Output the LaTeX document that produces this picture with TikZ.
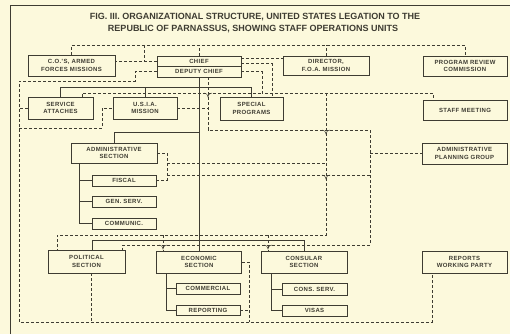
\documentclass[tikz,border=0pt]{standalone}
\usepackage{fontspec}
\setmainfont{Liberation Sans}
\newfontfamily\boxfont[LetterSpace=6]{Liberation Sans}
\usetikzlibrary{calc}
\definecolor{bg}{RGB}{252,249,220}
\definecolor{ink}{RGB}{62,60,50}
\newcommand\mydip[2]{\draw[ink,line width=0.5pt] (#1-4,#2) to[out=0,in=90] (#1,#2+4) to[out=90,in=180] (#1+4,#2);}
\begin{document}
\begin{tikzpicture}[x=1pt,y=-1pt,
  box/.style={draw=ink, line width=0.7pt, inner sep=0pt, align=center, text=ink,
    font=\boxfont\bfseries\fontsize{6}{7.5}\selectfont},
  org/.style={draw=ink, line width=1pt},
  dsh/.style={draw=ink, line width=0.5pt, dash pattern=on 3pt off 2pt},
  ttl/.style={font=\bfseries\fontsize{9}{10}\selectfont, text=ink}]
\fill[bg] (0,0) rectangle (510,334);
\useasboundingbox (0,0) rectangle (510,334);
\draw[ink, line width=0.8pt] (10,334) -- (10,5) -- (510,5);
\node[ttl] (title1) at (255,17) {FIG. III. ORGANIZATIONAL STRUCTURE, UNITED STATES LEGATION TO THE};
\node[ttl] (title2) at (253,29) {REPUBLIC OF PARNASSUS, SHOWING STAFF OPERATIONS UNITS};
% boxes
\node[box, minimum width=87pt, minimum height=21pt] (cos) at (71.5,65.5) {C.O.'S, ARMED\\FORCES MISSIONS};
\node[box, minimum width=84pt, minimum height=10pt] (chief) at (199,61) {CHIEF};
\node[box, minimum width=84pt, minimum height=11pt] (deputy) at (199,71.5) {DEPUTY CHIEF};
\node[box, minimum width=86pt, minimum height=19pt] (director) at (326,65.5) {DIRECTOR,\\F.O.A. MISSION};
\node[box, minimum width=84pt, minimum height=20pt] (prc) at (465,66) {PROGRAM REVIEW\\COMMISSION};
\node[box, minimum width=65pt, minimum height=22pt] (service) at (60.5,108) {SERVICE\\ATTACHES};
\node[box, minimum width=64pt, minimum height=22pt] (usia) at (145,108) {U.S.I.A.\\MISSION};
\node[box, minimum width=63pt, minimum height=23pt] (special) at (251.5,108.5) {SPECIAL\\PROGRAMS};
\node[box, minimum width=84pt, minimum height=20pt] (staff) at (465,110) {STAFF MEETING};
\node[box, minimum width=86pt, minimum height=20pt] (admin) at (114,153) {ADMINISTRATIVE\\SECTION};
\node[box, minimum width=64pt, minimum height=11pt] (fiscal) at (124,180.5) {FISCAL};
\node[box, minimum width=64pt, minimum height=11pt] (gen) at (124,201.5) {GEN. SERV.};
\node[box, minimum width=64pt, minimum height=11pt] (comm) at (124,223.5) {COMMUNIC.};
\node[box, minimum width=85pt, minimum height=21pt] (apg) at (464.5,153.5) {ADMINISTRATIVE\\PLANNING GROUP};
\node[box, minimum width=77pt, minimum height=23pt] (political) at (86.5,261.5) {POLITICAL\\SECTION};
\node[box, minimum width=85pt, minimum height=22pt] (economic) at (199,262) {ECONOMIC\\SECTION};
\node[box, minimum width=64pt, minimum height=11pt] (commercial) at (208,288.5) {COMMERCIAL};
\node[box, minimum width=64pt, minimum height=10pt] (reporting) at (208,310) {REPORTING};
\node[box, minimum width=86pt, minimum height=22pt] (consular) at (304,262) {CONSULAR\\SECTION};
\node[box, minimum width=65pt, minimum height=12pt] (consserv) at (314.5,289) {CONS. SERV.};
\node[box, minimum width=65pt, minimum height=11pt] (visas) at (314.5,310.5) {VISAS};
\node[box, minimum width=85pt, minimum height=22pt] (rwp) at (464.5,262) {REPORTS\\WORKING PARTY};
% helper coordinates
\coordinate (bar1) at (0,88); \coordinate (bar2) at (0,132); \coordinate (bar3) at (0,240);
\coordinate (asx) at (79,0); \coordinate (esx) at (166,0); \coordinate (csx) at (271,0);
\coordinate (tb) at (0,45); \coordinate (sb) at (0,93); \coordinate (rb) at (0,130);
\coordinate (lb) at (0,245); \coordinate (pb) at (0,235); \coordinate (bb) at (0,322);
\coordinate (l1) at (0,81); \coordinate (l2) at (0,128); \coordinate (a1) at (0,163); \coordinate (a2) at (0,175);
\coordinate (c19) at (19,0); \coordinate (c57) at (57,0); \coordinate (c82) at (82,0);
\coordinate (c91) at (91,0); \coordinate (c102) at (102,0); \coordinate (c135) at (135,0);
\coordinate (c144) at (144,0); \coordinate (c163) at (163,0); \coordinate (c167) at (167,0);
\coordinate (c208) at (208,0); \coordinate (c249) at (249,0); \coordinate (c262) at (262,0);
\coordinate (c268) at (268,0); \coordinate (c272) at (272,0); \coordinate (c326) at (326,0);
\coordinate (c370) at (370,0); \coordinate (c432) at (432,0); \coordinate (c433) at (433,0);
% solid lines
\draw[org] (deputy.south) -- (economic.north);
\draw[org] (service.north) |- (bar1 -| special.north) -- (special.north);
\draw[org] (usia.north) -- (usia.north |- bar1);
\draw[org] (admin.north) |- (bar2 -| deputy.south);
\draw[org] (admin.south -| asx) |- (comm.west);
\draw[org] (fiscal.west -| asx) -- (fiscal.west);
\draw[org] (gen.west -| asx) -- (gen.west);
\draw[org] ([xshift=5.5pt]political.north) |- (bar3 -| consular.north) -- (consular.north);
\draw[org] (economic.south -| esx) |- (reporting.west);
\draw[org] (commercial.west -| esx) -- (commercial.west);
\draw[org] (consular.south -| csx) |- (visas.west);
\draw[org] (consserv.west -| csx) -- (consserv.west);
% dashed lines
\draw[dsh] (cos.north) -- (cos.north |- tb) -| (prc.north);
\draw[dsh] (chief.north) -- (chief.north |- tb);
\draw[dsh] (director.north) -- (director.north |- tb);
\draw[dsh] (c144 |- tb) -- (chief.west -| c144);
\draw[dsh] (chief.west) -- (chief.west -| cos.east);
\coordinate (ce1) at ([yshift=2.5pt]chief.east);
\coordinate (ce2) at ([yshift=-2.5pt]chief.east);
\draw[dsh] (ce1) -- (ce1 -| director.west);
\draw[dsh] (ce2) -| (special.north -| c272);
\draw[dsh] (deputy.east) -| (c262 |- sb) -| (staff.north -| c433);
\draw[dsh] (service.north -| c82) -- (c82 |- sb) -- (c262 |- sb);
\draw[dsh] (deputy.south -| c208) -- (c208 |- rb) -- (c370 |- rb) -- (c370 |- lb)
  -- ([xshift=-3pt]political.north east |- lb) -- ([xshift=-3pt]political.north east);
\draw[dsh] (usia.east) -- (usia.east -| c208);
\draw[dsh] (c326 |- sb) -- (c326 |- pb) -- (c57 |- pb) -- (political.north -| c57);
\draw[dsh] (c163 |- pb) -- (economic.north -| c163);
\draw[dsh] (c268 |- pb) -- (consular.north -| c268);
\draw[dsh] (admin.east) -| (fiscal.east -| c167) -- (fiscal.east);
\draw[dsh] (c167 |- a1) -- (c326 |- a1);
\draw[dsh] (c167 |- a2) -- (c370 |- a2);
\draw[dsh] (apg.west -| c370) -- (apg.west);
\draw[dsh] (deputy.west) -| (c135 |- l1) -| (c19 |- bb) -| (rwp.south -| c432);
\draw[dsh] (service.west) -- (service.west -| c19);
\draw[dsh] (c19 |- l2) -| (usia.west -| c102) -- (usia.west);
\draw[dsh] (political.south -| c91) -- (c91 |- bb);
\draw[dsh] (economic.east) -| (c249 |- bb);
\draw[dsh] (reporting.east) -- (reporting.east -| c249);
% junction dips
\mydip{208}{93}
\mydip{326}{130}
\mydip{326}{175}
\mydip{163}{245}
\mydip{268}{245}
\end{tikzpicture}
\end{document}
